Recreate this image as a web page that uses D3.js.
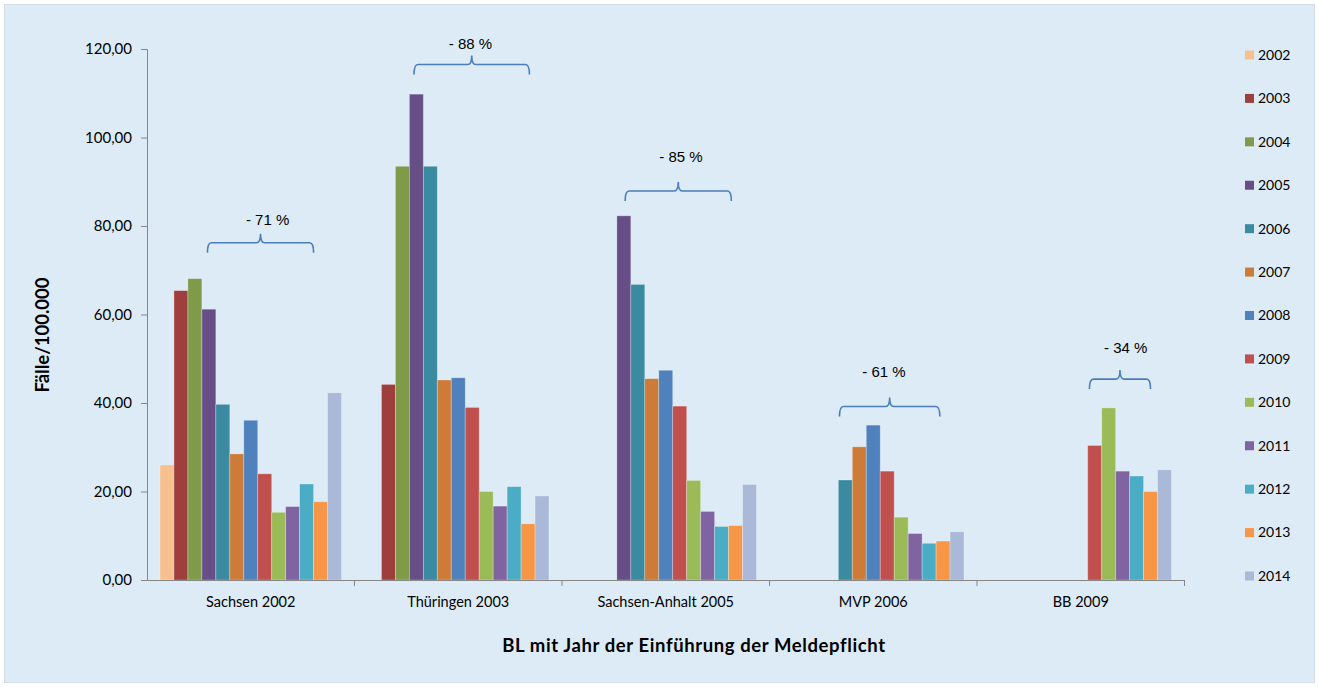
<!DOCTYPE html>
<html>
<head>
<meta charset="utf-8">
<script src="https://cdn.jsdelivr.net/npm/d3@7"></script>
<style>
  html, body { margin: 0; padding: 0; background: #ffffff; }
  svg { display: block; }
</style>
</head>
<body>
<svg id="chart" width="1319" height="687"></svg>
<script>
// ---------- data ----------
const categories = ["Sachsen 2002", "Thüringen 2003", "Sachsen-Anhalt 2005", "MVP 2006", "BB 2009"];
const years = ["2002","2003","2004","2005","2006","2007","2008","2009","2010","2011","2012","2013","2014"];
const v2002 = [26.0, null, null, null, null];
const v2003 = [65.4, 44.2, null, null, null];
const v2004 = [68.1, 93.5, null, null, null];
const v2005 = [61.2, 109.8, 82.3, null, null];
const v2006 = [39.7, 93.5, 66.8, 22.6, null];
const v2007 = [28.5, 45.2, 45.5, 30.1, null];
const v2008 = [36.1, 45.7, 47.4, 35.0, null];
const v2009 = [24.0, 39.0, 39.3, 24.6, 30.4];
const v2010 = [15.3, 20.0, 22.5, 14.2, 38.9];
const v2011 = [16.6, 16.7, 15.5, 10.5, 24.6];
const v2012 = [21.7, 21.1, 12.1, 8.3, 23.5];
const v2013 = [17.7, 12.7, 12.3, 8.8, 20.0];
const v2014 = [42.3, 19.0, 21.6, 10.9, 24.9];
const seriesValues = [v2002, v2003, v2004, v2005, v2006, v2007, v2008, v2009, v2010, v2011, v2012, v2013, v2014];
const colors = ["#F9C08F","#9E3F3E","#7F9A48","#684E87","#3A8BA1","#CC7B38","#4F81BD","#C0504D","#9BBB59","#8064A2","#4BACC6","#F79646","#AAB9D8"];
const yTicks = [0, 20, 40, 60, 80, 100, 120];

// annotation braces (slot positions within each group, values in y units)
const braceLabels = ["- 71 %", "- 88 %", "- 85 %", "- 61 %", "- 34 %"];
const braceFrom = [3.4, 3.33, 3.59, 4.08, 7.12];
const braceTo = [11.0, 11.6, 11.2, 11.27, 11.5];
const braceLevel = [76.2, 116.5, 87.9, 39.2, 45.4];
const labelSlot = [7.71, 7.38, 7.59, 7.27, 9.72];
const labelLevel = [80.2, 120.0, 94.5, 45.9, 51.2];

// ---------- layout ----------
const svg = d3.select("#chart");
const W = 1319, H = 687;
const plot = { left: 147, right: 1184.5, top: 49, bottom: 580 };
const fontUI = "Lato, 'Open Sans', sans-serif";

svg.append("rect").attr("x", 4.5).attr("y", 4.5).attr("width", W - 9).attr("height", H - 9)
  .attr("fill", "#DDEBF7").attr("stroke", "#D0DEEC").attr("stroke-width", 1);

const x = d3.scaleBand().domain(categories).range([plot.left, plot.right]).padding(0);
const inner = d3.scaleBand().domain(years).range([0, x.bandwidth()]).paddingInner(0).paddingOuter(0.93);
const y = d3.scaleLinear().domain([0, 120]).range([plot.bottom, plot.top]);
const step = inner.step();
const slotX = (ci, s) => x(categories[ci]) + inner(years[0]) + s * step;

const loc = d3.formatLocale({ decimal: ",", thousands: ".", grouping: [3], currency: ["", "€"] });
const fmt = loc.format(".2f");

// bars
years.forEach((yr, si) => {
  const vals = seriesValues[si];
  svg.append("g").selectAll("rect")
    .data(categories.map((c, ci) => ({ c, v: vals[ci] })).filter(d => d.v != null))
    .join("rect")
    .attr("x", d => x(d.c) + inner(yr))
    .attr("width", inner.bandwidth())
    .attr("y", d => y(d.v))
    .attr("height", d => y(0) - y(d.v))
    .attr("fill", colors[si])
    .attr("stroke", "rgba(255,255,255,0.35)")
    .attr("stroke-width", 0.8);
});

// y axis
const yAxis = d3.axisLeft(y).tickValues(yTicks).tickFormat(d => fmt(d)).tickSizeOuter(0).tickSize(6).tickPadding(9);
const gy = svg.append("g").attr("transform", `translate(${plot.left},0)`).call(yAxis);
gy.select(".domain").attr("stroke", "#868686");
gy.selectAll(".tick line").attr("stroke", "#868686");
gy.selectAll(".tick text").attr("font-family", fontUI).attr("font-size", 15).attr("fill", "#000");

// x axis
const xAxis = d3.axisBottom(x).tickSize(0).tickSizeOuter(0).tickPadding(17);
const gx = svg.append("g").attr("transform", `translate(0,${plot.bottom})`).call(xAxis);
gx.select(".domain").attr("stroke", "#868686");
gx.selectAll(".tick text").attr("font-family", fontUI).attr("font-size", 14.5).attr("fill", "#000");
// group separator ticks
const bounds = categories.map(c => x(c) + x.bandwidth());
gx.selectAll(".sep").data(bounds).join("line").attr("class", "sep")
  .attr("x1", d => d).attr("x2", d => d).attr("y1", 0).attr("y2", 6)
  .attr("stroke", "#868686");

// axis titles
svg.append("text").attr("x", 694).attr("y", 652)
  .attr("text-anchor", "middle").attr("font-family", fontUI).attr("font-weight", "bold")
  .attr("font-size", 18.5).attr("letter-spacing", 0.6).attr("fill", "#000")
  .text("BL mit Jahr der Einführung der Meldepflicht");
svg.append("text").attr("transform", "translate(49,335) rotate(-90)")
  .attr("text-anchor", "middle").attr("font-family", fontUI).attr("font-weight", "bold")
  .attr("font-size", 18.5).attr("fill", "#000").text("Fälle/100.000");

// braces
const depth = 10, tip = 9, r = 4;
categories.forEach((c, ci) => {
  const x0 = slotX(ci, braceFrom[ci]);
  const x1 = slotX(ci, braceTo[ci]);
  const xm = (x0 + x1) / 2;
  const yh = y(braceLevel[ci]);
  const p = d3.path();
  p.moveTo(x0, yh + depth);
  p.quadraticCurveTo(x0, yh, x0 + r, yh);
  p.lineTo(xm - r, yh);
  p.quadraticCurveTo(xm, yh, xm, yh - tip);
  p.quadraticCurveTo(xm, yh, xm + r, yh);
  p.lineTo(x1 - r, yh);
  p.quadraticCurveTo(x1, yh, x1, yh + depth);
  svg.append("path").attr("d", p.toString()).attr("fill", "none")
    .attr("stroke", "#4A7EBB").attr("stroke-width", 1.6);
  svg.append("text").attr("x", slotX(ci, labelSlot[ci])).attr("y", y(labelLevel[ci]))
    .attr("text-anchor", "middle").attr("font-family", "'Liberation Sans', Arial, sans-serif")
    .attr("font-size", 15).attr("fill", "#000").text(braceLabels[ci]);
});

// legend
const lg = svg.append("g");
const legendY = d3.scalePoint().domain(years).range([55, 576]);
years.forEach((yr, i) => {
  const cy = legendY(yr);
  lg.append("rect").attr("x", 1245).attr("y", cy - 4.5).attr("width", 9).attr("height", 9).attr("fill", colors[i]);
  lg.append("text").attr("x", 1258).attr("y", cy).attr("dy", "0.35em")
    .attr("font-family", fontUI).attr("font-size", 14).attr("fill", "#000").text(yr);
});
</script>
</body>
</html>
